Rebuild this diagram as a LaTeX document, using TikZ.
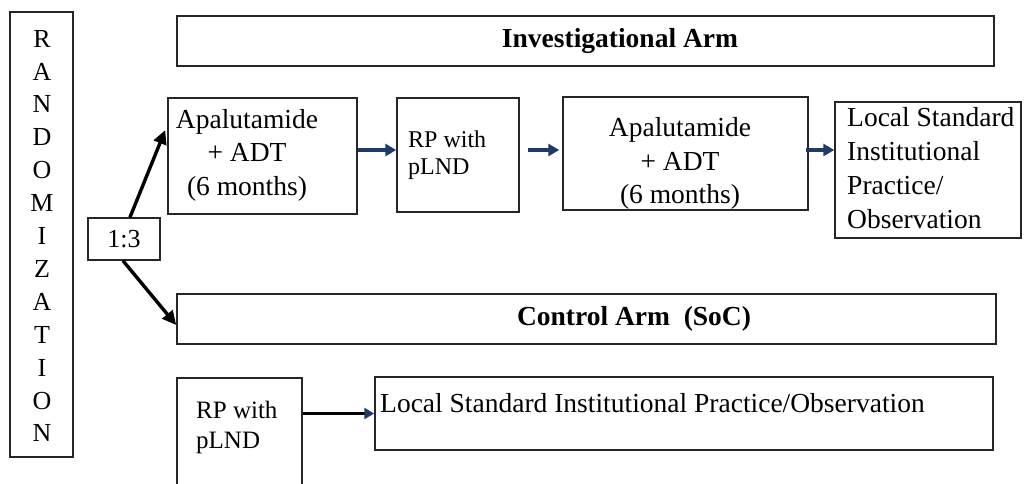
\documentclass[tikz,border=0pt]{standalone}
\usepackage{fontspec}
\setmainfont{Liberation Serif}
\usetikzlibrary{arrows.meta}
\definecolor{navy}{HTML}{1F3A68}
\begin{document}
\begin{tikzpicture}[x=1pt,y=-1pt,
  box/.style={draw=black!85, line width=1.5pt, rectangle, inner sep=0pt},
  txt/.style={inner sep=0pt, align=center, font=\fontsize{27.5}{33.5}\selectfont},
  lefttxt/.style={inner sep=0pt, align=left, anchor=west, font=\fontsize{27.5}{34}\selectfont},
  smalltxt/.style={inner sep=0pt, align=left, anchor=west, font=\fontsize{24}{27}\selectfont},
  branch/.style={line width=3.4pt, -{Triangle[length=14pt,width=13pt]}},
  flow/.style={draw=navy, line width=3.6pt, -{Triangle[length=11pt,width=12pt]}},
]
\useasboundingbox (0,0) rectangle (1024,483);
\clip (0,0) rectangle (1024,483);

% randomisation column and ratio
\node[box, minimum width=63pt, minimum height=445pt] (rand) at (41.5,234.5) {};
\node[txt, font=\fontsize{26}{32.9}\selectfont] (randtxt) at (42,236)
  {R\\A\\N\\D\\O\\M\\I\\Z\\A\\T\\I\\O\\N};
\node[box, minimum width=72pt, minimum height=42pt] (ratio) at (124,239) {};
\node[txt, font=\fontsize{26}{30}\selectfont] (ratiotxt) at (124,239) {1:3};

% arm headers
\node[box, minimum width=817pt, minimum height=50pt] (inv) at (585.5,41) {};
\node[txt, font=\bfseries\fontsize{27.5}{33}\selectfont] (invtxt) at (620,41) {Investigational Arm};
\node[box, minimum width=819pt, minimum height=50pt] (ctrl) at (586.5,319) {};
\node[txt, font=\bfseries\fontsize{27.5}{33}\selectfont] (ctrltxt) at (634,319) {Control Arm~ (SoC)};

% investigational arm sequence
\node[box, minimum width=189pt, minimum height=116pt] (apa1) at (262.5,156) {};
\node[txt] (apa1txt) at (247,155) {Apalutamide\\+ ADT\\(6 months)};
\node[box, minimum width=122pt, minimum height=114pt] (rp1) at (458,155) {};
\node[smalltxt] (rp1txt) at (408,155) {RP with\\pLND};
\node[box, minimum width=245pt, minimum height=113pt] (apa2) at (685.5,153.5) {};
\node[txt] (apa2txt) at (680,163.5) {Apalutamide\\+ ADT\\(6 months)};
\node[box, minimum width=186pt, minimum height=136pt] (loc1) at (928,170) {};
\node[lefttxt] (loc1txt) at (847,168) {Local Standard\\Institutional\\Practice/\\Observation};

% control arm sequence
\node[box, minimum width=125pt, minimum height=117pt] (rp2) at (239.5,436.5) {};
\node[smalltxt, font=\fontsize{25}{30}\selectfont] (rp2txt) at (196,427) {RP with\\pLND};
\node[box, minimum width=618pt, minimum height=73pt] (loc2) at (684,413.5) {};
\node[lefttxt] (loc2txt) at (380,403) {Local Standard Institutional Practice/Observation};

% randomisation branches
\draw[branch] ([xshift=6pt]ratio.north) -- ([xshift=-2pt,yshift=26pt]apa1.west);
\draw[branch] ([xshift=-1pt]ratio.south) -- ([yshift=-6pt]ctrl.west);

% flow arrows
\draw[flow] ([yshift=6pt]apa1.east) -- ([yshift=6pt]apa1.east -| rp1.west);
\draw[flow, shorten <=8pt, shorten >=3pt] ([yshift=5pt]rp1.east) -- ([yshift=5pt]rp1.east -| apa2.west);
\draw[flow, shorten <=-3pt] ([yshift=3.5pt]apa2.east) -- ([yshift=3.5pt]apa2.east -| loc1.west);
\draw[line width=3.4pt, -{Triangle[length=10pt,width=11pt,fill=navy,color=navy]}] (rp2.east |- loc2.west) -- (loc2.west);
\end{tikzpicture}
\end{document}
